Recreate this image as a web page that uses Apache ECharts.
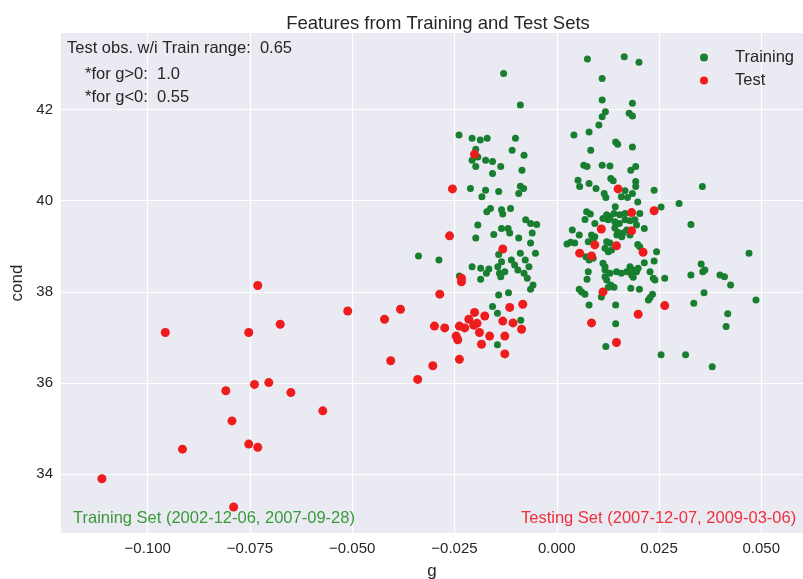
<!DOCTYPE html>
<html>
<head>
<meta charset="utf-8">
<script src="https://cdn.jsdelivr.net/npm/echarts@6/dist/echarts.min.js"></script>
<style>html,body{margin:0;padding:0;background:#fff;}#c{width:803px;height:579px;}</style>
</head>
<body>
<div id="c"></div>
<script>
const xTicks = [-0.1, -0.075, -0.05, -0.025, 0, 0.025, 0.05];
const yTicks = [34, 36, 38, 40, 42];

const trainPoints = [
[0.0075,43.11],[0.0165,43.16],[0.0201,43.04],[0.0111,42.68],[0.0111,42.21],[0.0185,42.14],[0.0119,41.95],[0.0111,41.84],[0.0177,41.92],[0.0185,41.86],[0.0103,41.66],[0.0042,41.44],[0.0079,41.51],[0.0144,41.29],[0.0149,41.24],[0.0185,41.18],[0.0083,41.11],[0.0066,40.78],[0.0074,40.75],[0.0111,40.78],[0.0130,40.76],[0.0181,40.67],[0.0193,40.75],[0.0052,40.45],[0.0056,40.31],[0.0079,40.38],[0.0096,40.27],[0.0132,40.49],[0.0138,40.44],[0.0193,40.42],[0.0193,40.31],[0.0167,40.22],[0.0116,40.16],[0.0120,40.07],[0.0158,40.09],[0.0173,40.07],[0.0185,40.16],[0.0238,40.23],[0.0356,40.31],[0.0198,39.97],[0.0143,39.87],[0.0299,39.94],[0.0255,39.86],[0.0073,39.76],[0.0082,39.71],[0.0122,39.69],[0.0130,39.65],[0.0140,39.72],[0.0154,39.69],[0.0167,39.72],[0.0203,39.72],[0.0069,39.59],[0.0093,39.50],[0.0113,39.61],[0.0126,39.58],[0.0142,39.54],[0.0153,39.50],[0.0167,39.58],[0.0179,39.56],[0.0191,39.58],[0.0195,39.47],[0.0214,39.39],[0.0328,39.48],[0.0038,39.36],[0.0055,39.25],[0.0085,39.25],[0.0093,39.21],[0.0142,39.40],[0.0149,39.31],[0.0162,39.29],[0.0171,39.36],[0.0147,39.25],[0.0159,39.21],[0.0179,39.25],[0.0025,39.05],[0.0034,39.09],[0.0044,39.07],[0.0077,39.10],[0.0089,39.14],[0.0122,39.10],[0.0130,39.07],[0.0118,38.96],[0.0134,38.92],[0.0126,38.88],[0.0198,39.04],[0.0203,38.99],[0.0244,38.88],[0.0071,38.77],[0.0079,38.70],[0.0089,38.74],[0.0113,38.63],[0.0118,38.55],[0.0214,38.64],[0.0238,38.68],[0.0353,38.61],[0.0362,38.48],[0.0357,38.44],[0.0077,38.44],[0.0118,38.48],[0.0130,38.41],[0.0146,38.44],[0.0158,38.41],[0.0171,38.44],[0.0179,38.55],[0.0187,38.48],[0.0195,38.44],[0.0199,38.52],[0.0183,38.37],[0.0187,38.32],[0.0118,38.33],[0.0122,38.26],[0.0228,38.44],[0.0236,38.30],[0.0240,38.26],[0.0264,38.30],[0.0328,38.37],[0.0074,38.28],[0.0132,38.15],[0.0140,38.10],[0.0126,38.10],[0.0181,38.08],[0.0202,38.06],[0.0055,38.06],[0.0061,38.00],[0.0069,37.95],[0.0109,37.89],[0.0234,37.95],[0.0228,37.87],[0.0224,37.82],[0.0360,37.98],[0.0079,37.71],[0.0144,37.71],[0.0335,37.75],[0.0144,37.30],[0.0120,36.80],[0.0255,36.62],[0.0315,36.62],[0.0380,36.36],[0.0470,38.85],[0.0399,38.37],[0.0410,38.33],[0.0425,38.15],[0.0487,37.82],[0.0418,37.52],[0.0414,37.24],
[-0.0130,42.79],[-0.0089,42.10],[-0.0239,41.44],[-0.0207,41.37],[-0.0187,41.33],[-0.0170,41.37],[-0.0101,41.37],[-0.0198,41.13],[-0.0109,41.11],[-0.0080,41.00],[-0.0193,40.96],[-0.0207,40.89],[-0.0174,40.89],[-0.0157,40.86],[-0.0198,40.75],[-0.0137,40.75],[-0.0085,40.67],[-0.0157,40.60],[-0.0211,40.27],[-0.0174,40.23],[-0.0142,40.20],[-0.0183,40.09],[-0.0089,40.32],[-0.0081,40.27],[-0.0093,40.16],[-0.0162,39.83],[-0.0171,39.76],[-0.0135,39.80],[-0.0132,39.71],[-0.0113,39.83],[-0.0076,39.58],[-0.0064,39.50],[-0.0049,39.48],[-0.0193,39.47],[-0.0135,39.39],[-0.0119,39.39],[-0.0115,39.29],[-0.0154,39.26],[-0.0198,39.18],[-0.0093,39.18],[-0.0060,39.29],[-0.0064,39.07],[-0.0338,38.79],[-0.0288,38.70],[-0.0142,38.82],[-0.0089,38.85],[-0.0052,38.85],[-0.0111,38.70],[-0.0077,38.70],[-0.0135,38.66],[-0.0207,38.55],[-0.0186,38.52],[-0.0166,38.50],[-0.0144,38.55],[-0.0103,38.59],[-0.0068,38.55],[-0.0172,38.41],[-0.0140,38.41],[-0.0127,38.44],[-0.0095,38.48],[-0.0080,38.41],[-0.0238,38.35],[-0.0186,38.28],[-0.0137,38.33],[-0.0072,38.30],[-0.0058,38.15],[-0.0064,38.06],[-0.0142,37.93],[-0.0118,37.98],[-0.0157,37.68],[-0.0145,37.53],[-0.0088,37.38],[-0.0145,36.84]
];

const testPoints = [
[-0.1112,33.90],[-0.0957,37.11],[-0.0915,34.55],[-0.0809,35.83],[-0.0794,35.17],[-0.0790,33.28],[-0.0753,37.11],[-0.0753,34.66],[-0.0739,35.97],[-0.0731,38.14],[-0.0731,34.59],[-0.0704,36.01],[-0.0676,37.29],[-0.0650,35.79],[-0.0572,35.39],[-0.0511,37.58],[-0.0421,37.40],[-0.0406,36.49],[-0.0382,37.62],[-0.0340,36.08],[-0.0303,36.38],[-0.0299,37.25],[-0.0286,37.95],[-0.0274,37.21],[-0.0262,39.23],[-0.0255,40.26],[-0.0246,37.03],[-0.0242,36.95],[-0.0238,37.25],[-0.0238,36.52],[-0.0233,38.30],[-0.0233,38.22],[-0.0225,37.21],[-0.0215,37.40],[-0.0203,37.27],[-0.0201,41.02],[-0.0201,37.55],[-0.0195,37.31],[-0.0189,37.11],[-0.0184,36.85],[-0.0176,37.47],[-0.0164,37.03],[-0.0132,38.94],[-0.0132,37.36],[-0.0127,37.03],[-0.0127,36.64],[-0.0115,37.66],[-0.0107,37.32],[-0.0086,37.18],[-0.0083,37.73],[0.0056,38.85],[0.0085,38.79],[0.0085,37.32],[0.0093,39.03],[0.0109,39.38],[0.0113,38.00],[0.0146,39.01],[0.0146,36.89],[0.0150,40.26],[0.0183,39.74],[0.0183,39.34],[0.0199,37.51],[0.0211,38.87],[0.0238,39.78],[0.0264,37.70]
];

const titleText = 'Features from Training and Test Sets';
const noteLines = ['Test obs. w/i Train range:  0.65', '*for g>0:  1.0', '*for g<0:  0.55'];
const trainLabel = 'Training Set (2002-12-06, 2007-09-28)';
const testLabel = 'Testing Set (2007-12-07, 2009-03-06)';

const FONT = '"Liberation Sans", Arial, sans-serif';
const TXT = '#262626';
const fmtX = v => (v < 0 ? '\u2212' : '') + Math.abs(v).toFixed(3);

const chart = echarts.init(document.getElementById('c'), null, {renderer: 'canvas'});
chart.setOption({
  animation: false,
  backgroundColor: '#ffffff',
  textStyle: {fontFamily: FONT},
  title: {
    text: titleText, left: 433, textAlign: 'center', top: 9,
    textStyle: {fontFamily: FONT, fontSize: 18.5, fontWeight: 'normal', color: TXT}
  },
  grid: {left: 61, right: 0, top: 33, bottom: 46, show: true, backgroundColor: '#EAEAF2', borderWidth: 0,
         containLabel: false, outerBoundsMode: 'none'},
  legend: {
    orient: 'vertical', left: 695, top: 44, itemGap: 6, itemWidth: 8, itemHeight: 8,
    icon: 'circle',
    textStyle: {fontFamily: FONT, fontSize: 16.5, color: TXT, padding: [0, 0, 0, 22]},
    data: ['Training', 'Test']
  },
  xAxis: {
    type: 'value', min: -0.1212, max: 0.0602,
    name: 'g', nameLocation: 'middle', nameGap: 30,
    nameTextStyle: {fontFamily: FONT, fontSize: 17, color: TXT},
    axisLine: {show: false},
    axisTick: {show: false, customValues: xTicks},
    axisLabel: {customValues: xTicks, formatter: fmtX, fontFamily: FONT, fontSize: 15, color: TXT, margin: 8},
    splitLine: {show: true, lineStyle: {color: '#ffffff', width: 1.2}}
  },
  yAxis: {
    type: 'value', min: 32.71, max: 43.68,
    name: 'cond', nameLocation: 'middle', nameGap: 33,
    nameTextStyle: {fontFamily: FONT, fontSize: 17, color: TXT},
    axisLine: {show: false},
    axisTick: {show: false, customValues: yTicks},
    axisLabel: {customValues: yTicks, fontFamily: FONT, fontSize: 15, color: TXT, margin: 8},
    splitLine: {show: true, lineStyle: {color: '#ffffff', width: 1.2}}
  },
  series: [
    {name: 'Training', type: 'scatter', data: trainPoints, symbol: 'circle', symbolSize: 7,
     itemStyle: {color: '#177f2f', opacity: 1}, z: 2},
    {name: 'Test', type: 'scatter', data: testPoints, symbol: 'circle', symbolSize: 9,
     itemStyle: {color: '#ee1c1c', opacity: 1}, z: 3}
  ],
  graphic: [
    {type: 'text', left: 67, top: 40, z: 10, style: {text: noteLines[0], font: '16.5px ' + FONT, fill: TXT}},
    {type: 'text', left: 85, top: 66, z: 10, style: {text: noteLines[1], font: '16.5px ' + FONT, fill: TXT}},
    {type: 'text', left: 85, top: 89, z: 10, style: {text: noteLines[2], font: '16.5px ' + FONT, fill: TXT}},
    {type: 'text', left: 73, top: 510, z: 10, style: {text: trainLabel, font: '16.5px ' + FONT, fill: '#3a9a3a'}},
    {type: 'text', left: 521, top: 510, z: 10, style: {text: testLabel, font: '16.5px ' + FONT, fill: '#f0303c'}}
  ]
});
</script>
</body>
</html>
